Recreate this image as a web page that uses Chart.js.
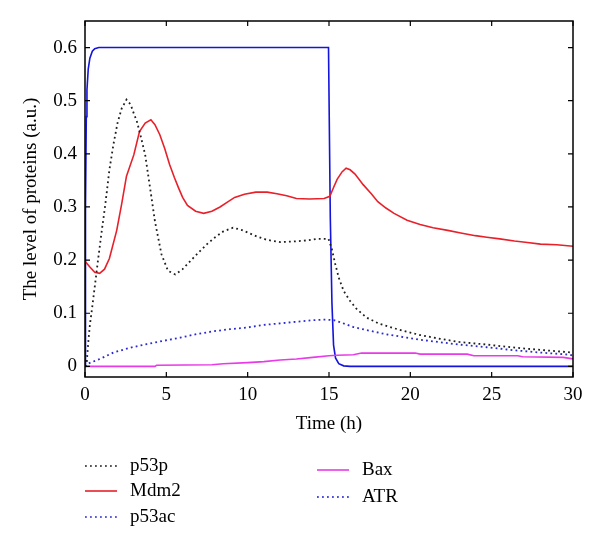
<!DOCTYPE html>
<html>
<head>
<meta charset="utf-8">
<script src="https://cdn.jsdelivr.net/npm/chart.js@4.4.1/dist/chart.umd.min.js"></script>
<style>
html,body{margin:0;padding:0;background:#fff;}
#wrap{position:relative;width:600px;height:548px;}
</style>
</head>
<body>
<div id="wrap"><canvas id="c" width="600" height="548"></canvas></div>
<script>
// ---- data ----
const xTicks = [0, 5, 10, 15, 20, 25, 30];
const yTicks = [0, 0.1, 0.2, 0.3, 0.4, 0.5, 0.6];

const p53pTime  = [0,0.1,0.2,0.3,0.45,0.6,0.8,1.0,1.25,1.5,1.75,2.0,2.25,2.55,2.8,3.0,3.2,3.45,3.7,4.0,4.3,4.7,5.1,5.55,6.0,6.5,7.0,7.5,8.0,8.5,9.1,9.6,10.0,10.6,11.2,12.0,12.8,13.6,14.3,14.97,15.18,15.38,15.6,15.9,16.3,16.7,17.3,18.1,19.2,20.6,21.8,23.0,24.7,26.5,28.0,30];
const p53pLevel = [0,0.005,0.045,0.078,0.113,0.15,0.2,0.248,0.305,0.37,0.418,0.458,0.485,0.502,0.493,0.476,0.46,0.43,0.398,0.336,0.273,0.211,0.18,0.173,0.183,0.199,0.215,0.23,0.243,0.254,0.261,0.257,0.252,0.244,0.238,0.234,0.235,0.237,0.24,0.24,0.22,0.193,0.167,0.142,0.123,0.108,0.092,0.08,0.07,0.059,0.052,0.046,0.041,0.035,0.031,0.026];

const mdm2Time  = [0,0.3,0.6,0.9,1.2,1.5,1.95,2.25,2.55,3.0,3.35,3.7,4.05,4.3,4.6,4.9,5.2,5.5,5.75,6.0,6.3,6.8,7.3,7.8,8.3,8.8,9.2,9.8,10.5,11.2,11.8,12.4,13.0,13.8,14.7,15.05,15.3,15.5,15.8,16.05,16.3,16.6,17.1,17.6,18.0,18.5,19.0,19.8,20.6,21.4,22.3,23.1,24.0,24.7,25.5,26.4,27.2,28.0,29.0,30];
const mdm2Level = [0.198,0.187,0.177,0.175,0.183,0.203,0.256,0.305,0.358,0.398,0.442,0.458,0.464,0.455,0.436,0.41,0.38,0.355,0.336,0.318,0.303,0.292,0.288,0.292,0.3,0.31,0.318,0.324,0.328,0.328,0.325,0.321,0.316,0.315,0.316,0.32,0.338,0.352,0.366,0.373,0.37,0.362,0.342,0.325,0.31,0.298,0.288,0.275,0.267,0.261,0.256,0.251,0.246,0.243,0.24,0.236,0.233,0.23,0.229,0.226];

const p53acTime  = [0,0.1,0.5,0.92,1.75,2.77,3.8,4.8,5.85,6.9,7.9,8.9,9.95,11.0,12.0,13.0,14.0,14.8,15.3,15.7,16.5,17.5,18.6,19.8,20.6,21.7,23.0,24.7,26.5,28.0,29.8,30];
const p53acLevel = [0,0.004,0.009,0.014,0.026,0.035,0.042,0.048,0.054,0.061,0.066,0.07,0.073,0.078,0.081,0.084,0.087,0.088,0.087,0.083,0.074,0.067,0.06,0.054,0.05,0.046,0.041,0.036,0.03,0.026,0.022,0.02];

const baxTime  = [0,4.3,4.4,7.8,8.5,10,11,12,13,14,15,15.5,16.5,17,20.3,20.6,23.5,23.9,26.6,26.9,29.4,30];
const baxLevel = [0,0,0.002,0.003,0.005,0.007,0.009,0.012,0.014,0.017,0.02,0.021,0.022,0.025,0.025,0.023,0.023,0.02,0.02,0.018,0.017,0.014];

const atrTime  = [0,0.03,0.08,0.12,0.2,0.3,0.45,0.6,0.85,14.97,15.08,15.18,15.28,15.4,15.6,15.9,16.3,30];
const atrLevel = [0,0.3,0.47,0.52,0.56,0.58,0.593,0.598,0.6,0.6,0.28,0.12,0.04,0.016,0.005,0.001,0,0];

const seriesNames = ['p53p', 'Mdm2', 'p53ac', 'Bax', 'ATR'];

// ---- styling ----
const FONT = {family: "'Liberation Serif', 'DejaVu Serif', serif", size: 19};
const DOT = [1.8, 3.2];
const toPts = (t, v) => t.map((x, i) => ({x: x, y: v[i]}));

const datasets = [
  {label: seriesNames[0], data: toPts(p53pTime, p53pLevel), borderColor: '#1e1e1e', borderDash: DOT, borderWidth: 1.8},
  {label: seriesNames[1], data: toPts(mdm2Time, mdm2Level), borderColor: '#e8202a', borderDash: [], borderWidth: 1.6},
  {label: seriesNames[2], data: toPts(p53acTime, p53acLevel), borderColor: '#2a2ad0', borderDash: DOT, borderWidth: 1.8},
  {label: seriesNames[3], data: toPts(baxTime, baxLevel), borderColor: '#e83ae8', borderDash: [], borderWidth: 1.6},
  {label: seriesNames[4], data: toPts(atrTime, atrLevel), borderColor: '#1414dc', borderDash: [], borderWidth: 1.6}
].map(d => Object.assign(d, {pointRadius: 0, fill: false, tension: 0}));

// legend appearance (as in the reference: ATR shown dotted)
const legendLayout = [
  {ds: 0, dash: DOT, lx: 85, tx: 130, y: 466},
  {ds: 1, dash: [], lx: 85, tx: 130, y: 491},
  {ds: 2, dash: DOT, lx: 85, tx: 130, y: 517},
  {ds: 3, dash: [], lx: 317, tx: 362, y: 470},
  {ds: 4, dash: DOT, lx: 317, tx: 362, y: 497}
];

const framePlugin = {
  id: 'frame',
  afterDraw(chart) {
    const ctx = chart.ctx, a = chart.chartArea;
    const xs = chart.scales.x, ys = chart.scales.y;
    ctx.save();
    ctx.strokeStyle = '#000';
    ctx.lineWidth = 1.5;
    ctx.setLineDash([]);
    ctx.strokeRect(a.left, a.top, a.right - a.left, a.bottom - a.top);
    ctx.lineWidth = 1.2;
    const L = 5;
    ctx.beginPath();
    xTicks.forEach(v => {
      const px = xs.getPixelForValue(v);
      ctx.moveTo(px, a.bottom); ctx.lineTo(px, a.bottom - L);
      ctx.moveTo(px, a.top); ctx.lineTo(px, a.top + L);
    });
    yTicks.forEach(v => {
      const py = ys.getPixelForValue(v);
      ctx.moveTo(a.left, py); ctx.lineTo(a.left + L, py);
      ctx.moveTo(a.right, py); ctx.lineTo(a.right - L, py);
    });
    ctx.stroke();

    // legend
    ctx.font = FONT.size + 'px ' + FONT.family;
    ctx.textBaseline = 'middle';
    ctx.textAlign = 'left';
    legendLayout.forEach(item => {
      const ds = chart.data.datasets[item.ds];
      ctx.beginPath();
      ctx.strokeStyle = ds.borderColor;
      ctx.lineWidth = 1.6;
      ctx.setLineDash(item.dash);
      ctx.moveTo(item.lx, item.y);
      ctx.lineTo(item.lx + 32, item.y);
      ctx.stroke();
      ctx.setLineDash([]);
      ctx.fillStyle = '#000';
      ctx.fillText(ds.label, item.tx, item.y);
    });
    ctx.restore();
  }
};

new Chart(document.getElementById('c'), {
  type: 'line',
  data: {datasets: datasets},
  plugins: [framePlugin],
  options: {
    responsive: false,
    animation: false,
    events: [],
    layout: {padding: {top: 21, right: 27, left: 0, bottom: 0}},
    plugins: {legend: {display: false}, tooltip: {enabled: false}},
    scales: {
      x: {
        type: 'linear', min: 0, max: 30,
        afterBuildTicks: s => { s.ticks = xTicks.map(v => ({value: v})); },
        afterFit: s => { s.height = 171; },
        ticks: {font: FONT, color: '#000', padding: 7, maxRotation: 0, autoSkip: false,
                callback: v => String(v)},
        grid: {display: false, drawTicks: false},
        border: {display: false},
        title: {display: true, text: 'Time (h)', font: FONT, color: '#000', padding: {top: 0, bottom: 113}}
      },
      y: {
        type: 'linear', min: -0.02, max: 0.65,
        afterBuildTicks: s => { s.ticks = yTicks.map(v => ({value: v})); },
        afterFit: s => { s.width = 85; },
        ticks: {font: FONT, color: '#000', padding: 8, autoSkip: false,
                callback: v => (v === 0 ? '0' : Number(v).toFixed(1))},
        grid: {display: false, drawTicks: false},
        border: {display: false},
        title: {display: true, text: 'The level of proteins (a.u.)', font: FONT, color: '#000', padding: {top: 20, bottom: 0}}
      }
    }
  }
});
</script>
</body>
</html>
